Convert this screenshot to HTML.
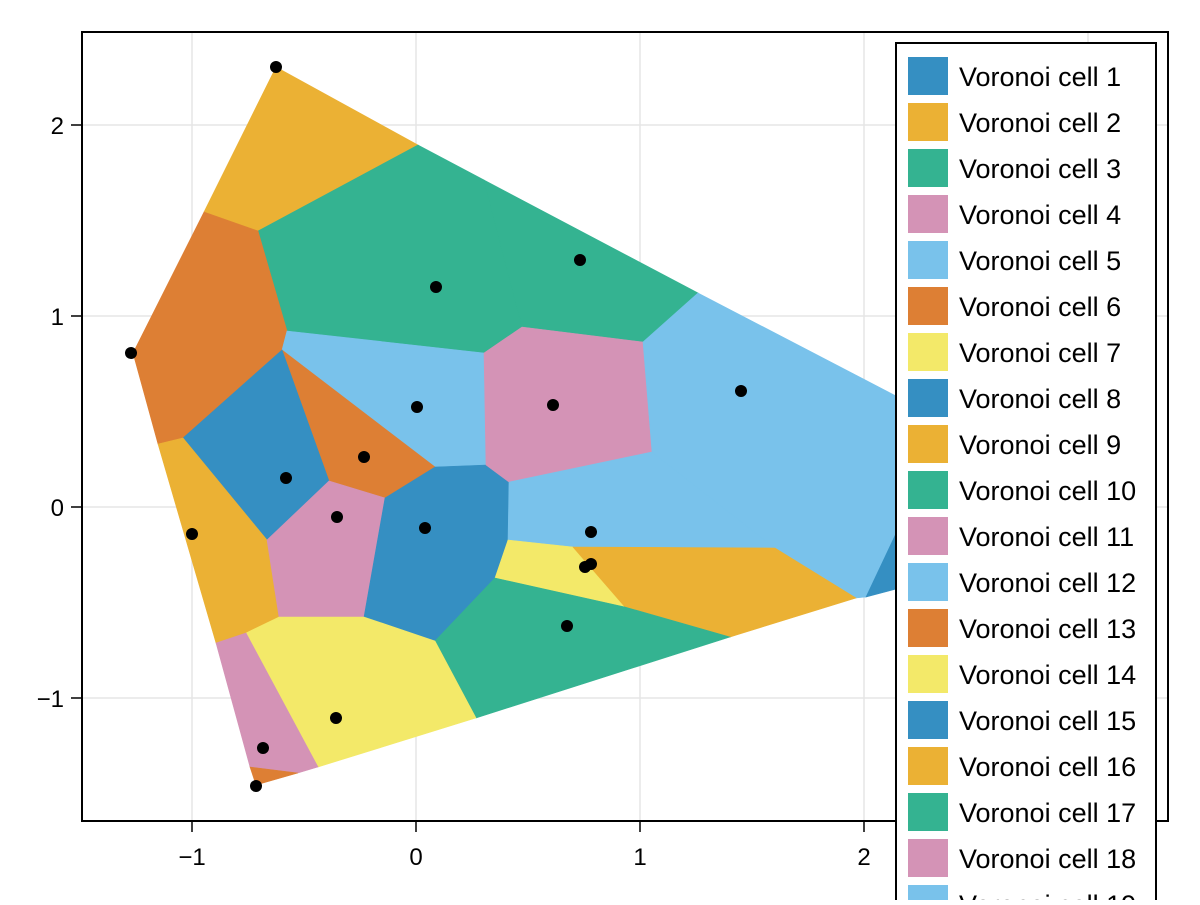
<!DOCTYPE html><html><head><style>body{margin:0;background:#fff}</style></head><body>
<svg width="1200" height="900" xmlns="http://www.w3.org/2000/svg" font-family="Liberation Sans, sans-serif">
<rect width="1200" height="900" fill="#fff"/>
<g stroke="#e5e5e5" stroke-width="1.5">
<line x1="192" y1="32" x2="192" y2="821"/><line x1="416" y1="32" x2="416" y2="821"/><line x1="640" y1="32" x2="640" y2="821"/><line x1="864" y1="32" x2="864" y2="821"/><line x1="1088" y1="32" x2="1088" y2="821"/>
<line x1="82" y1="125" x2="1168" y2="125"/><line x1="82" y1="316" x2="1168" y2="316"/><line x1="82" y1="507" x2="1168" y2="507"/><line x1="82" y1="698" x2="1168" y2="698"/>
</g>
<g stroke-width="0.6">
<polygon fill="#ebb134" stroke="#ebb134" points="276,67 418,145 258,231 204,212"/>
<polygon fill="#34b391" stroke="#34b391" points="418,145 484,180 522,327 484,353 287,331 258,231"/>
<polygon fill="#34b391" stroke="#34b391" points="484,180 698,293 643,342 522,327"/>
<polygon fill="#dd7f34" stroke="#dd7f34" points="204,212 258,231 287,331 282,350 183,438 158,444 133,353"/>
<polygon fill="#79c2eb" stroke="#79c2eb" points="287,331 484,353 486,465 435,467 282,350"/>
<polygon fill="#dd7f34" stroke="#dd7f34" points="282,350 435,467 385,498 329,481"/>
<polygon fill="#358fc2" stroke="#358fc2" points="282,350 329,481 267,540 183,438"/>
<polygon fill="#ebb134" stroke="#ebb134" points="158,444 183,438 267,540 279,617 246,633 216,643"/>
<polygon fill="#d493b6" stroke="#d493b6" points="267,540 329,481 385,498 364,617 279,617"/>
<polygon fill="#358fc2" stroke="#358fc2" points="385,498 435,467 486,465 509,482 508,540 495,578 435,641 364,617"/>
<polygon fill="#d493b6" stroke="#d493b6" points="484,353 522,327 643,342 652,452 509,482 486,465"/>
<polygon fill="#79c2eb" stroke="#79c2eb" points="509,482 652,452 775,548 573,547 508,540"/>
<polygon fill="#79c2eb" stroke="#79c2eb" points="643,342 698,293 900,398 900,530 866,597 856,598 775,548 652,452"/>
<polygon fill="#358fc2" stroke="#358fc2" points="866,597 900,525 900,588"/>
<polygon fill="#f3e969" stroke="#f3e969" points="508,540 573,547 625,607 495,578"/>
<polygon fill="#ebb134" stroke="#ebb134" points="573,547 775,548 856,598 730,637 625,607"/>
<polygon fill="#34b391" stroke="#34b391" points="495,578 625,607 730,637 476,718 435,641"/>
<polygon fill="#f3e969" stroke="#f3e969" points="279,617 364,617 435,641 476,718 318,767 246,633"/>
<polygon fill="#d493b6" stroke="#d493b6" points="216,643 246,633 318,767 298,773 250,767"/>
<polygon fill="#dd7f34" stroke="#dd7f34" points="250,767 298,773 256,785"/>
</g>
<g fill="#000">
<circle cx="276" cy="67" r="6"/><circle cx="436" cy="287" r="6"/><circle cx="580" cy="260" r="6"/><circle cx="131" cy="353" r="6"/><circle cx="417" cy="407" r="6"/><circle cx="553" cy="405" r="6"/><circle cx="741" cy="391" r="6"/><circle cx="364" cy="457" r="6"/><circle cx="286" cy="478" r="6"/><circle cx="192" cy="534" r="6"/><circle cx="337" cy="517" r="6"/><circle cx="425" cy="528" r="6"/><circle cx="591" cy="532" r="6"/><circle cx="591" cy="564" r="6"/><circle cx="585" cy="567" r="6"/><circle cx="567" cy="626" r="6"/><circle cx="336" cy="718" r="6"/><circle cx="263" cy="748" r="6"/><circle cx="256" cy="786" r="6"/>
</g>
<rect x="82" y="32" width="1086" height="789" fill="none" stroke="#000" stroke-width="2"/>
<g stroke="#000" stroke-width="1.5">
<line x1="192" y1="821" x2="192" y2="832"/><line x1="416" y1="821" x2="416" y2="832"/><line x1="640" y1="821" x2="640" y2="832"/><line x1="864" y1="821" x2="864" y2="832"/><line x1="1088" y1="821" x2="1088" y2="832"/>
<line x1="71" y1="125" x2="82" y2="125"/><line x1="71" y1="316" x2="82" y2="316"/><line x1="71" y1="507" x2="82" y2="507"/><line x1="71" y1="698" x2="82" y2="698"/>
</g>
<g font-size="24" fill="#000">
<g text-anchor="middle"><text x="192" y="865">−1</text><text x="416" y="865">0</text><text x="640" y="865">1</text><text x="864" y="865">2</text><text x="1088" y="865">3</text></g>
<g text-anchor="end"><text x="64" y="134">2</text><text x="64" y="325">1</text><text x="64" y="516">0</text><text x="64" y="707">−1</text></g>
</g>
<rect x="896" y="43" width="260" height="880" fill="#fff" stroke="#000" stroke-width="2"/>
<g font-size="27" fill="#000">
<rect x="908" y="57" width="40" height="38" fill="#358fc2"/><text x="959" y="86">Voronoi cell 1</text>
<rect x="908" y="103" width="40" height="38" fill="#ebb134"/><text x="959" y="132">Voronoi cell 2</text>
<rect x="908" y="149" width="40" height="38" fill="#34b391"/><text x="959" y="178">Voronoi cell 3</text>
<rect x="908" y="195" width="40" height="38" fill="#d493b6"/><text x="959" y="224">Voronoi cell 4</text>
<rect x="908" y="241" width="40" height="38" fill="#79c2eb"/><text x="959" y="270">Voronoi cell 5</text>
<rect x="908" y="287" width="40" height="38" fill="#dd7f34"/><text x="959" y="316">Voronoi cell 6</text>
<rect x="908" y="333" width="40" height="38" fill="#f3e969"/><text x="959" y="362">Voronoi cell 7</text>
<rect x="908" y="379" width="40" height="38" fill="#358fc2"/><text x="959" y="408">Voronoi cell 8</text>
<rect x="908" y="425" width="40" height="38" fill="#ebb134"/><text x="959" y="454">Voronoi cell 9</text>
<rect x="908" y="471" width="40" height="38" fill="#34b391"/><text x="959" y="500">Voronoi cell 10</text>
<rect x="908" y="517" width="40" height="38" fill="#d493b6"/><text x="959" y="546">Voronoi cell 11</text>
<rect x="908" y="563" width="40" height="38" fill="#79c2eb"/><text x="959" y="592">Voronoi cell 12</text>
<rect x="908" y="609" width="40" height="38" fill="#dd7f34"/><text x="959" y="638">Voronoi cell 13</text>
<rect x="908" y="655" width="40" height="38" fill="#f3e969"/><text x="959" y="684">Voronoi cell 14</text>
<rect x="908" y="701" width="40" height="38" fill="#358fc2"/><text x="959" y="730">Voronoi cell 15</text>
<rect x="908" y="747" width="40" height="38" fill="#ebb134"/><text x="959" y="776">Voronoi cell 16</text>
<rect x="908" y="793" width="40" height="38" fill="#34b391"/><text x="959" y="822">Voronoi cell 17</text>
<rect x="908" y="839" width="40" height="38" fill="#d493b6"/><text x="959" y="868">Voronoi cell 18</text>
<rect x="908" y="885" width="40" height="38" fill="#79c2eb"/><text x="959" y="914">Voronoi cell 19</text>
</g>
</svg>
</body></html>
